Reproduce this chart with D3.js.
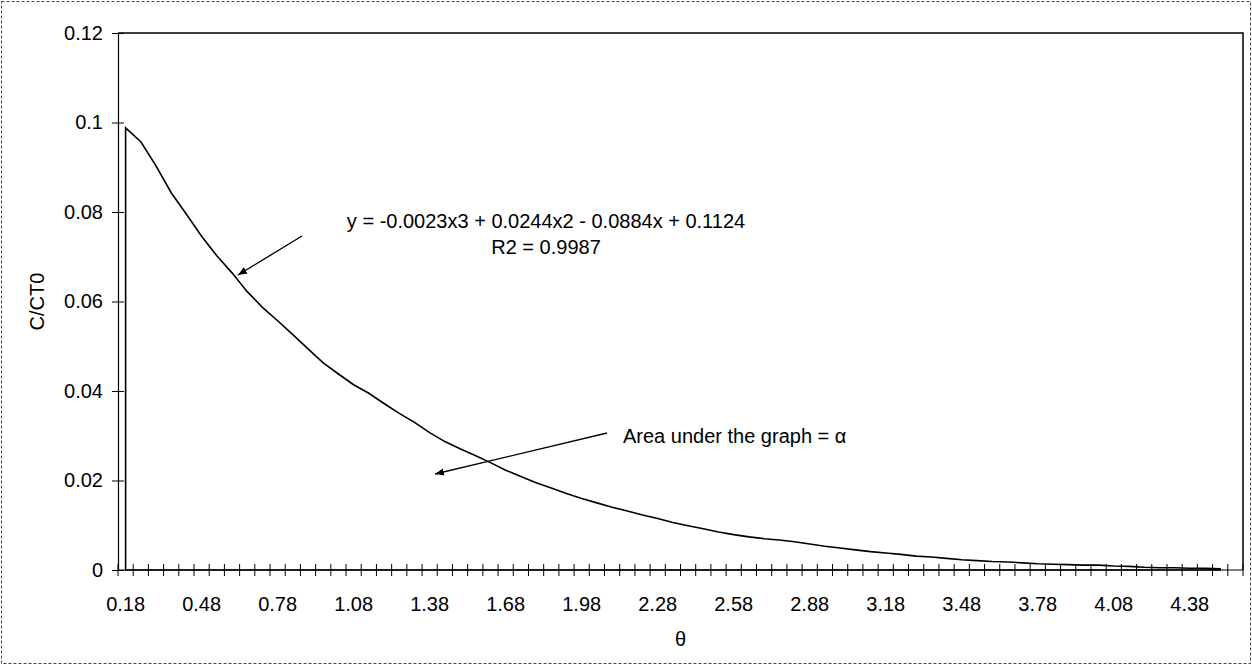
<!DOCTYPE html>
<html><head><meta charset="utf-8">
<script src="https://cdn.jsdelivr.net/npm/d3@7/dist/d3.min.js"></script>
<style>
body{margin:0;background:#fff}
svg{display:block}
text{font-family:"Liberation Sans",Arial,sans-serif;fill:#000}
</style>
</head><body>
<svg id="chart" width="1252" height="666"></svg>
<script>
const categories = ["0.18","0.24","0.30","0.36","0.42","0.48","0.54","0.60","0.66","0.72","0.78","0.84","0.90","0.96","1.02","1.08","1.14","1.20","1.26","1.32","1.38","1.44","1.50","1.56","1.62","1.68","1.74","1.80","1.86","1.92","1.98","2.04","2.10","2.16","2.22","2.28","2.34","2.40","2.46","2.52","2.58","2.64","2.70","2.76","2.82","2.88","2.94","3.00","3.06","3.12","3.18","3.24","3.30","3.36","3.42","3.48","3.54","3.60","3.66","3.72","3.78","3.84","3.90","3.96","4.02","4.08","4.14","4.20","4.26","4.32","4.38","4.44","4.50","4.56"];
const values = [0.0988,0.0957,0.0903,0.0843,0.0795,0.0746,0.0702,0.0664,0.0622,0.0587,
0.0557,0.0526,0.0494,0.0463,0.0438,0.0414,0.0395,0.0372,0.0350,0.0330,
0.0307,0.0287,0.0271,0.0256,0.0240,0.0223,0.0209,0.0195,0.0183,0.0171,
0.0160,0.0150,0.0140,0.0132,0.0123,0.0115,0.0106,0.0099,0.0092,0.0085,
0.0079,0.0074,0.0070,0.0067,0.0063,0.0058,0.0053,0.0049,0.0045,0.0041,
0.0038,0.0035,0.0031,0.0029,0.0026,0.0023,0.0021,0.0019,0.0018,0.0016,
0.0014,0.0013,0.0012,0.0011,0.0011,0.0009,0.0008,0.0006,0.0005,0.0005,
0.0004,0.0004,0.0003];
const xTickLabels = ["0.18","0.48","0.78","1.08","1.38","1.68","1.98","2.28","2.58","2.88","3.18","3.48","3.78","4.08","4.38"];
const yTickValues = [0,0.02,0.04,0.06,0.08,0.1,0.12];
const yTickLabels = ["0","0.02","0.04","0.06","0.08","0.1","0.12"];
const yTitle = "C/CT0";
const xTitle = "θ";
const equationLines = ["y = -0.0023x3 + 0.0244x2 - 0.0884x + 0.1124","R2 = 0.9987"];
const areaLabel = "Area under the graph = α";

const svg = d3.select("#chart");
const W = 1252, H = 666;
const plot = {left:118, right:1243, top:33, bottom:570};

svg.append("rect").attr("x",0).attr("y",0).attr("width",W).attr("height",H).attr("fill","#fff");
// outer chart border
svg.append("rect").attr("x",1.5).attr("y",1.5).attr("width",W-3).attr("height",H-4)
  .attr("fill","none").attr("stroke","#444").attr("stroke-width",1).attr("stroke-dasharray","3,2");

const x = d3.scaleBand().domain(categories).range([plot.left, plot.right]).padding(0);
const y = d3.scaleLinear().domain([0,0.12]).range([plot.bottom, plot.top]);

// plot area border (top & right)
svg.append("path").attr("d",`M${plot.left},${plot.top}H${plot.right}V${plot.bottom}`)
  .attr("fill","none").attr("stroke","#000").attr("stroke-width",1.5);

// data area
const pts = values.map((v,i)=>({c:categories[i], v}));
const area = d3.area().x(d=>x(d.c)+x.bandwidth()/2).y0(y(0)).y1(d=>y(d.v)).curve(d3.curveLinear);
svg.append("path").datum(pts).attr("d",area).attr("fill","none").attr("stroke","#000").attr("stroke-width",1.6);

// y axis
const yAxis = d3.axisLeft(y).tickValues(yTickValues).tickSize(0).tickFormat((d,i)=>yTickLabels[i]);
const gy = svg.append("g").attr("transform",`translate(${plot.left},0)`).call(yAxis);
gy.select(".domain").attr("stroke","#000").attr("stroke-width",1.2);
gy.selectAll(".tick text").attr("x",-15).attr("font-size",20).style("font-family","'Liberation Sans',Arial,sans-serif");
gy.selectAll(".tick").append("line").attr("x1",-6).attr("x2",6).attr("stroke","#000");

// x axis
const gx = svg.append("g").attr("transform",`translate(0,${plot.bottom})`);
gx.append("line").attr("x1",plot.left).attr("x2",plot.right).attr("stroke","#000").attr("stroke-width",1.2);
const bounds = categories.map(c=>x(c)).concat([plot.right]);
gx.selectAll("line.tk").data(bounds).join("line").attr("class","tk")
  .attr("x1",d=>d).attr("x2",d=>d).attr("y1",-6).attr("y2",6).attr("stroke","#000");
gx.selectAll("text.lbl").data(xTickLabels).join("text").attr("class","lbl")
  .attr("x",d=>x(d)+x.bandwidth()/2).attr("y",41).attr("text-anchor","middle").attr("font-size",20).text(d=>d);

// axis titles
svg.append("text").attr("x",(plot.left+plot.right)/2).attr("y",646).attr("text-anchor","middle").attr("font-size",20).text(xTitle);
svg.append("text").attr("transform",`translate(44,${(plot.top+plot.bottom)/2}) rotate(-90)`).attr("text-anchor","middle").attr("font-size",20).text(yTitle);

// annotations
svg.append("defs").append("marker").attr("id","ah").attr("viewBox","0 0 10 10").attr("refX",10).attr("refY",5)
  .attr("markerWidth",9).attr("markerHeight",9).attr("markerUnits","userSpaceOnUse").attr("orient","auto")
  .append("path").attr("d","M0,1L10,5L0,9Z").attr("fill","#000");
const eq = svg.append("text").attr("x",546).attr("y",228).attr("text-anchor","middle").attr("font-size",20);
equationLines.forEach((t,i)=>eq.append("tspan").attr("x",546).attr("dy",i?26:0).text(t));
svg.append("line").attr("x1",302).attr("y1",236).attr("x2",238).attr("y2",275).attr("stroke","#000").attr("stroke-width",1.3).attr("marker-end","url(#ah)");
svg.append("text").attr("x",623).attr("y",443).attr("font-size",20).text(areaLabel);
svg.append("line").attr("x1",607).attr("y1",433).attr("x2",435).attr("y2",474).attr("stroke","#000").attr("stroke-width",1.3).attr("marker-end","url(#ah)");
</script>
</body></html>
